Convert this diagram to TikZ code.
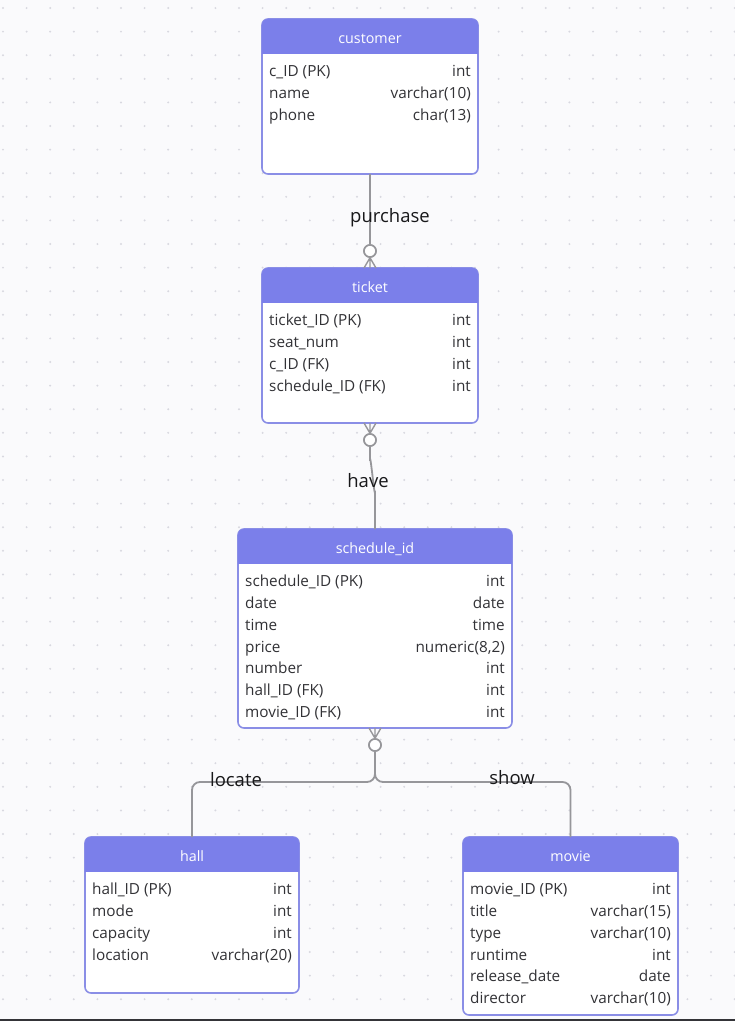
\documentclass[tikz,border=0pt]{standalone}
\usepackage{fontspec}
\setmainfont{Open Sans}
\definecolor{bgcol}{RGB}{250,250,252}
\definecolor{dotcol}{RGB}{216,216,224}
\definecolor{hdrcol}{RGB}{123,127,234}
\definecolor{bordcol}{RGB}{138,142,230}
\definecolor{rowcol}{RGB}{50,50,54}
\definecolor{conncol}{RGB}{150,150,154}
\definecolor{lblcol}{RGB}{24,24,26}
\definecolor{barcol}{RGB}{52,52,56}
\tikzset{
  tblbox/.style={draw=bordcol, line width=1.6pt, fill=white, rounded corners=6pt, inner sep=0pt, outer sep=0pt, anchor=north west},
  rowl/.style={anchor=west, inner sep=0pt, text=rowcol, font=\fontsize{15.3}{18}\selectfont, text height=11pt, text depth=3.5pt},
  rowr/.style={rowl, anchor=east},
  hdrtxt/.style={text=white, font=\fontsize{14.3}{17}\selectfont, inner sep=0pt, text height=10.5pt, text depth=3pt},
  conn/.style={draw=conncol, line width=1.8pt},
  crow/.style={draw=conncol, line width=1.4pt},
  zcirc/.style={circle, draw=conncol, line width=1.6pt, fill=white, minimum size=12pt, inner sep=0pt},
  lbl/.style={text=lblcol, font=\fontsize{18.5}{22}\selectfont, inner sep=0pt},
}
\newcommand\ertab[7]{%
  \node[tblbox, minimum width={(#4-#2)*1pt}, minimum height={(#5-#3)*1pt}] (#1) at (#2,#3) {};
  \fill[hdrcol, rounded corners=6pt] (#1.north west) rectangle ([yshift=-34.5pt]#1.north east);
  \fill[hdrcol] ([yshift=-20pt]#1.north west) rectangle ([yshift=-34.5pt]#1.north east);
  \node[hdrtxt] (#1-title) at ({(#2+#4)/2},{#3+20.5}) {#6};
  \foreach \rowa/\rowb [count=\rowi] in {#7} {
    \node[rowl] (#1-l\rowi) at ({#2+7},{#3+54+21.75*(\rowi-1)}) {\rowa};
    \node[rowr] (#1-r\rowi) at ({#4-7},{#3+54+21.75*(\rowi-1)}) {\rowb};
  }
}
\begin{document}
\begin{tikzpicture}[x=1pt,y=-1pt]
\useasboundingbox (0,0) rectangle (735,1021);
\fill[bgcol] (0,0) rectangle (735,1021);
\foreach \gi in {0,...,31} {
  \foreach \gj in {0,...,43} {
    \fill[dotcol] ({3+23.6*\gi},{8+23.6*\gj}) circle (1.1pt);
  }
}
\fill[barcol] (0,1018.5) rectangle (735,1021);

% tables
\ertab{customer}{262}{19}{478}{174}{customer}{c\_ID (PK)/int, name/varchar(10), phone/char(13)}
\ertab{ticket}{262}{268}{478}{423}{ticket}{ticket\_ID (PK)/int, seat\_num/int, c\_ID (FK)/int, schedule\_ID (FK)/int}
\ertab{schedule}{238}{529}{512}{728}{schedule\_id}{schedule\_ID (PK)/int, date/date, time/time, price/{numeric(8,2)}, number/int, hall\_ID (FK)/int, movie\_ID (FK)/int}
\ertab{hall}{85}{837}{299}{993}{hall}{hall\_ID (PK)/int, mode/int, capacity/int, location/varchar(20)}
\ertab{movie}{463}{837}{678}{1015}{movie}{movie\_ID (PK)/int, title/varchar(15), type/varchar(10), runtime/int, release\_date/date, director/varchar(10)}

% circles (positions)
\node[zcirc] (c1) at (370,251) {};
\node[zcirc] (c2) at (370,440) {};
\node[zcirc] (c3) at (375,745) {};
\coordinate (j) at (375,782);

% connectors
\draw[conn] (customer.south) -- (c1.north);
\draw[crow] (c1.south) -- ([xshift=-6pt]ticket.north)
            (c1.south) -- (ticket.north)
            (c1.south) -- ([xshift=6pt]ticket.north);
\draw[crow] (c2.north) -- ([xshift=-6pt]ticket.south)
            (c2.north) -- (ticket.south)
            (c2.north) -- ([xshift=6pt]ticket.south);
\draw[conn] (c2.south) -- ++(0,14) to[out=90,in=-90] ++(5,30) -- (schedule.north);
\draw[crow] (c3.north) -- ([xshift=-6pt]schedule.south)
            (c3.north) -- (schedule.south)
            (c3.north) -- ([xshift=6pt]schedule.south);
\draw[conn, rounded corners=8pt] (c3.south) -- (j) -| (hall.north);
\draw[conn, rounded corners=8pt] (c3.south) -- (j) -| (movie.north);
\node[zcirc] at (c1) {};
\node[zcirc] at (c2) {};
\node[zcirc] at (c3) {};

% labels
\node[lbl] (lpurchase) at (390,218) {purchase};
\node[lbl] (lhave) at (368,481) {have};
\node[lbl] (llocate) at (236,780) {locate};
\node[lbl] (lshow) at (512,778) {show};
\end{tikzpicture}
\end{document}
